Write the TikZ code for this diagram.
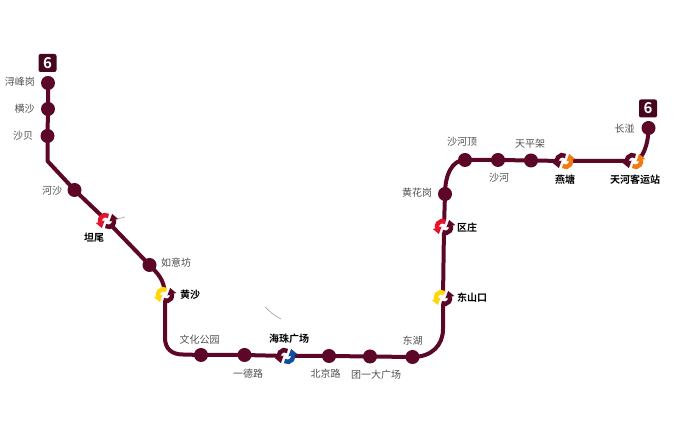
\documentclass[tikz,border=0pt]{standalone}
\usepackage{fontspec}
\setmainfont[BoldFont={Noto Sans CJK SC Bold}]{Noto Sans CJK SC}
\usetikzlibrary{backgrounds}
\definecolor{linedark}{HTML}{5C0628}
\definecolor{badgedark}{HTML}{45061F}
\definecolor{labelgray}{HTML}{505050}
\definecolor{xred}{HTML}{E5142D}
\definecolor{xyellow}{HTML}{FFD60A}
\definecolor{xblue}{HTML}{0F4FA0}
\definecolor{xorange}{HTML}{F07A14}
\tikzset{
  st/.style={circle,fill=linedark,minimum size=14pt,inner sep=0pt,outer sep=0pt},
  hub/.style={circle,minimum size=4pt,inner sep=0pt,outer sep=0pt},
  metro/.style={draw=linedark,line width=4pt,line join=round,line cap=round},
  lab/.style={text=labelgray,font=\fontsize{10}{11}\selectfont,inner sep=0pt},
  hublab/.style={text=black,font=\fontsize{10}{11}\selectfont\bfseries,inner sep=0pt},
  badge/.style={fill=badgedark,rounded corners=2pt,minimum size=18pt,inner sep=0pt,text=white,font=\fontsize{15}{15}\selectfont\bfseries},
  stray/.style={draw=gray!70,line width=0.7pt},
  pics/xfer/.style 2 args={code={
    \fill[white] (0,0) circle (6);
    \foreach \r/\c in {0/#1,180/#2}{
      \begin{scope}[rotate=\r,shift={(-1.6,0.6)}]
        \draw[\c,line width=4.4pt] (55:5.4) arc (55:195:5.4);
        \fill[\c] ([shift={(195:5.4)}]285:6.5) -- ([shift={(195:5.4)}]195:4.6) -- ([shift={(195:5.4)}]15:4.6) -- cycle;
      \end{scope}
    }
  }}
}
\begin{document}
\begin{tikzpicture}[x=1pt,y=1pt]
\path[use as bounding box] (0,0) rectangle (680,425);
% stations
\node[st] (xunfeng) at (48,342) {};
\node[st] (hengsha) at (48,316) {};
\node[st] (shabei) at (47.5,289) {};
\coordinate (bendA) at (47.5,264);
\node[st] (hesha) at (74.5,235) {};
\node[hub] (tanwei) at (107,204) {};
\node[st] (ruyi) at (149.5,160) {};
\node[hub] (huangsha) at (165,130) {};
\node[st] (wenhua) at (201,70) {};
\node[st] (yide) at (244.5,70) {};
\node[hub] (haizhu) at (286,69) {};
\node[st] (beijing) at (329,69) {};
\node[st] (tuanyi) at (370,68.5) {};
\node[st] (donghu) at (412.5,68) {};
\node[hub] (dongshan) at (443,127) {};
\node[hub] (ouzhuang) at (444,198) {};
\node[st] (huanghua) at (445,231) {};
\node[st] (shaheding) at (465,265) {};
\node[st] (shahe) at (498,265) {};
\node[st] (tianping) at (531,264.5) {};
\node[hub] (yantang) at (564,264) {};
\node[hub] (keyun) at (634,264) {};
\node[st] (changban) at (648.5,297) {};
% line
\begin{pgfonlayer}{background}
\draw[metro] (xunfeng.center) -- (hengsha.center) -- (shabei.center) -- (bendA) -- (hesha.center) -- (tanwei.center) -- (ruyi.center)
  .. controls (157,152) and (164.5,146) .. (huangsha.center)
  -- (165,87) .. controls (165,76) and (172,70.5) .. (183,70.5)
  -- (wenhua.center) -- (yide.center) -- (haizhu.center) -- (beijing.center) -- (tuanyi.center) -- (donghu.center)
  .. controls (432,68) and (443,80) .. (443,96)
  -- (dongshan.center) -- (ouzhuang.center) -- (huanghua.center)
  .. controls (445,250) and (452,265) .. (shaheding.center)
  -- (shahe.center) -- (tianping.center) -- (yantang.center) -- (keyun.center)
  .. controls (642,264) and (648.5,280) .. (changban.center);
\end{pgfonlayer}
% interchange icons
\pic at (tanwei) {xfer={xred}{linedark}};
\pic at (huangsha) {xfer={xyellow}{linedark}};
\pic at (haizhu) {xfer={linedark}{xblue}};
\pic at (ouzhuang) {xfer={xred}{linedark}};
\pic at (dongshan) {xfer={xyellow}{linedark}};
\pic at (yantang) {xfer={linedark}{xorange}};
\pic at (keyun) {xfer={linedark}{xorange}};
% badges
\node[badge] (badgeA) at (47.5,362) {6};
\node[badge] (badgeB) at (648,316.5) {6};
% labels
\node[lab] at (20,343) {浔峰岗};
\node[lab] at (24.5,316) {横沙};
\node[lab] at (23,289) {沙贝};
\node[lab] at (52,234) {河沙};
\node[hublab] at (94,187) {坦尾};
\node[lab] at (176,162) {如意坊};
\node[hublab] at (190,130) {黄沙};
\node[lab] at (199.5,85.5) {文化公园};
\node[lab] at (248,51) {一德路};
\node[hublab] at (289,86) {海珠广场};
\node[lab] at (325.5,51) {北京路};
\node[lab] at (376,50.5) {团一大广场};
\node[lab] at (412.5,84.5) {东湖};
\node[hublab] at (472,127) {东山口};
\node[hublab] at (467,197) {区庄};
\node[lab] at (417,232) {黄花岗};
\node[lab] at (462,283) {沙河顶};
\node[lab] at (499,247) {沙河};
\node[lab] at (530,281.5) {天平架};
\node[hublab] at (565,245) {燕塘};
\node[hublab] at (635,245.5) {天河客运站};
\node[lab] at (624.5,296) {长湴};
% stray marks
\draw[stray] (265,118) .. controls (270,113) and (275,109) .. (281,106);
\draw[stray] (117,206) -- (125,208);
\end{tikzpicture}
\end{document}
